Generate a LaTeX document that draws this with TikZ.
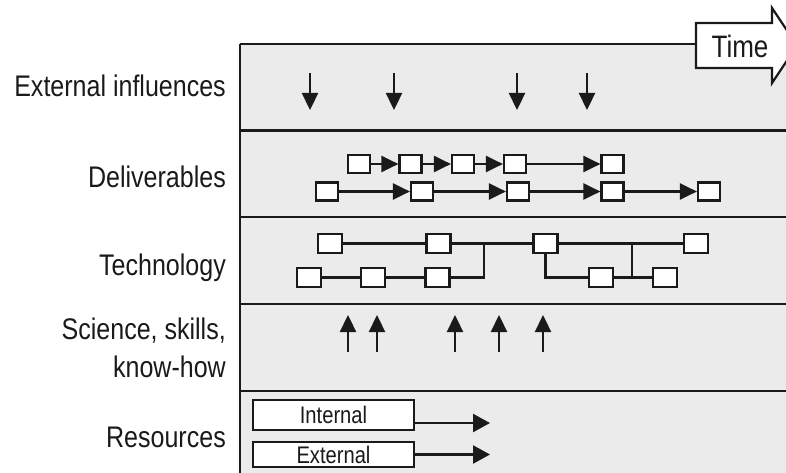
\documentclass[tikz,border=0pt]{standalone}
\usepackage{fontspec}
\setmainfont{Liberation Sans}[FakeStretch=0.84]
\usetikzlibrary{arrows.meta}
\definecolor{panel}{HTML}{EBEBEB}
\definecolor{ink}{HTML}{1A1A1A}
\begin{document}
\begin{tikzpicture}[x=1pt,y=-1pt,
  lbl/.style={font=\fontsize{29.8}{38}\selectfont, text=ink, anchor=base east, inner sep=0, align=right},
  dbox/.style={draw=ink, fill=white, line width=2.2pt, minimum width=22pt, minimum height=18pt, inner sep=0},
  tbox/.style={dbox, minimum width=24pt, minimum height=19pt},
  flow/.style={draw=ink, line width=2.3pt, -{Triangle[length=17pt,width=16pt]}},
  rflow/.style={draw=ink, line width=2.3pt, -{Triangle[length=17pt,width=18pt]}},
  link/.style={draw=ink, line width=2.1pt},
  sep/.style={draw=ink, line width=2.8pt},
  rbox/.style={draw=ink, fill=white, line width=2.2pt, minimum width=161pt, inner sep=0, font=\fontsize{24}{26}\selectfont, text=ink}
]
\useasboundingbox (0,0) rectangle (786,473);
\clip (0,0) rectangle (786,473);

% swim-lane panel
\fill[panel] (240,44) rectangle (800,480);
\draw[sep] (240,44) -- (696,44);
\draw[sep] (240,44) -- (240,480);
\foreach \y in {130.5,217,304,391} \draw[sep] (240,\y) -- (800,\y);

% time arrow
\draw[draw=ink, fill=white, line width=2.2pt, line join=miter]
  (696,23) -- (772,23) -- (772,8) -- (797,45.5) -- (772,83) -- (772,68) -- (696,68) -- cycle;
\node[font=\fontsize{31}{33}\selectfont, text=ink] (time) at (740,46) {Time};

% lane labels
\node[lbl] (lext) at (226,97) {External influences};
\node[lbl] (ldel) at (226,187) {Deliverables};
\node[lbl] (ltec) at (226,275) {Technology};
\node[lbl] (lsci) at (226,377) {Science, skills,\\know-how};
\node[lbl] (lres) at (226,447) {Resources};

% external influences
\foreach \x [count=\i] in {310,394,517,587} {
  \coordinate (et\i) at (\x,73);
  \coordinate (eb\i) at (\x,110);
  \draw[flow] (et\i) -- (eb\i);
}

% deliverables
\foreach \x [count=\i] in {359,410.5,463,515,612.5}
  \node[dbox] (da\i) at (\x,164) {};
\foreach \x [count=\i] in {327,422,518,612.5,709}
  \node[dbox] (db\i) at (\x,191.5) {};
\foreach \i [evaluate=\i as \j using int(\i+1)] in {1,...,4} {
  \draw[flow] (da\i) -- (da\j);
  \draw[flow] (db\i) -- (db\j);
}

% technology
\node[tbox] (ta1) at (330,243.5) {};
\node[tbox] (ta2) at (438.5,243.5) {};
\node[tbox] (ta3) at (545.5,243.5) {};
\node[tbox] (ta4) at (696,243.5) {};
\node[tbox] (tb1) at (309,277.5) {};
\node[tbox] (tb2) at (373,277.5) {};
\node[tbox] (tb3) at (437.5,277.5) {};
\node[tbox] (tb4) at (601,277.5) {};
\node[tbox] (tb5) at (665,277.5) {};
\coordinate (j1) at (484,243.5);
\coordinate (j2) at (632,243.5);
\coordinate (j3) at (632,277.5);
\draw[link] (ta1) -- (ta2);
\draw[link] (ta2) -- (ta3);
\draw[link] (ta3) -- (ta4);
\draw[link] (tb1) -- (tb2);
\draw[link] (tb2) -- (tb3);
\draw[link] (tb3) -| (j1);
\draw[link] (ta3) |- (tb4);
\draw[link] (tb4) -- (tb5);
\draw[link] (j2) -- (j3);

% science, skills, know-how
\foreach \x [count=\i] in {348,377,455,499,543} {
  \coordinate (ub\i) at (\x,352);
  \coordinate (ut\i) at (\x,315);
  \draw[flow] (ub\i) -- (ut\i);
}

% resources
\node[rbox, minimum height=30pt] (rint) at (333.5,415) {Internal};
\node[rbox, minimum height=25pt] (rext) at (333.5,454.5) {External};
\coordinate (rie) at (490,423);
\coordinate (ree) at (490,454.5);
\draw[rflow] ([yshift=-8pt]rint.east) -- (rie);
\draw[rflow] (rext) -- (ree);
\end{tikzpicture}
\end{document}
